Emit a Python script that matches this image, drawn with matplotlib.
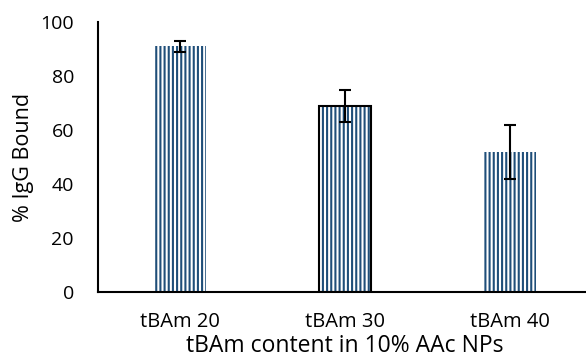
import matplotlib
matplotlib.use("Agg")
import matplotlib.pyplot as plt

# Binding data for the three formulations
categories = ["tBAm 20", "tBAm 30", "tBAm 40"]
igg_bound = [91, 69, 52]
igg_err = [2, 6, 10]
y_ticks = [0, 20, 40, 60, 80, 100]

plt.rcParams["font.family"] = ["Open Sans", "DejaVu Sans"]
plt.rcParams["hatch.linewidth"] = 1.5

bar_blue = "#1F4E79"

fig = plt.figure(figsize=(5.86, 3.62), dpi=100)
ax = fig.add_axes([97.5 / 586, 70 / 362, 495 / 586, 270 / 362])

x = list(range(len(categories)))
ax.bar(x, igg_bound, width=0.315, color="white", edgecolor=bar_blue,
       linewidth=0, hatch="||||", zorder=2)
# middle bar carries a black outline
ax.bar([x[1]], [igg_bound[1]], width=0.315, fill=False, edgecolor="black",
       linewidth=1.5, zorder=3)
ax.errorbar(x, igg_bound, yerr=igg_err, fmt="none", ecolor="black",
            elinewidth=1.5, capsize=4.5, capthick=1.5, zorder=4)

ax.set_xlim(-0.5, 2.5)
ax.set_ylim(0, 100)
ax.set_yticks(y_ticks)
ax.set_xticks(x)
ax.set_xticklabels(categories)
ax.tick_params(axis="both", length=0, labelsize=14)
ax.tick_params(axis="x", labelsize=14.5, pad=14.5)
ax.tick_params(axis="y", pad=17)

for side in ("top", "right"):
    ax.spines[side].set_visible(False)
for side in ("left", "bottom"):
    ax.spines[side].set_linewidth(1.5)
    ax.spines[side].set_color("black")

ax.set_ylabel("% IgG Bound", fontsize=15.5)
ax.set_xlabel("tBAm content in 10% AAc NPs", fontsize=16.5)
ax.yaxis.set_label_coords(-0.128, 0.5)
ax.xaxis.set_label_coords(0.5, -0.155)

fig.savefig("out.png", dpi=100)
